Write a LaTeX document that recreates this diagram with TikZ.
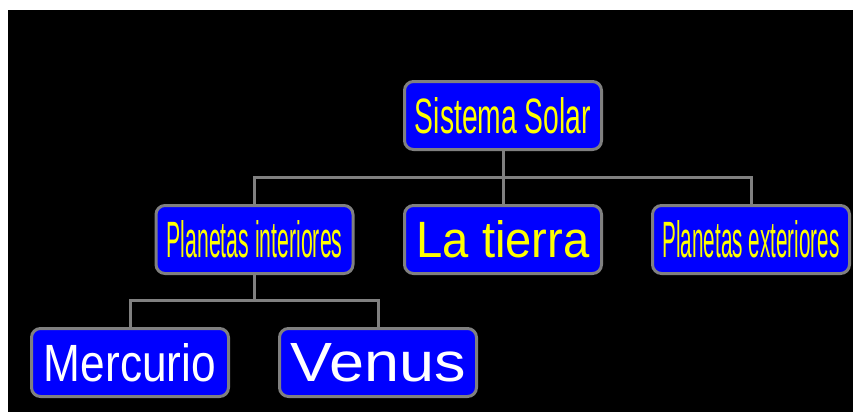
\documentclass[tikz,border=0pt]{standalone}
\usepackage{fontspec}
\setmainfont{Liberation Sans}
\usepackage{graphicx}
\definecolor{boxblue}{HTML}{0000FF}
\definecolor{edgegray}{HTML}{808080}
\definecolor{txtyellow}{HTML}{FFFF00}
\begin{document}
\begin{tikzpicture}[x=1pt,y=-1pt,
  box/.style={draw=edgegray,line width=3pt,fill=boxblue,rounded corners=9pt,
    minimum width=197pt,minimum height=68pt,inner sep=0pt},
  conn/.style={draw=edgegray,line width=3pt}]
\useasboundingbox (0,0) rectangle (853,412);
\fill[white] (0,0) rectangle (853,412);
\fill[black] (8,10) rectangle (853,412);
\node[box] (ss) at (503,115.5) {\color{txtyellow}\resizebox{176pt}{36pt}{Sistema Solar}};
\node[box] (pi) at (254.5,239.5) {\color{txtyellow}\resizebox{176pt}{37pt}{Planetas interiores}};
\node[box] (lt) at (503,239.5) {\color{txtyellow}\resizebox{173pt}{37pt}{La tierra}};
\node[box] (pe) at (751,239.5) {\color{txtyellow}\resizebox{177pt}{37pt}{Planetas exteriores}};
\node[box] (me) at (130,362.5) {\color{white}\resizebox{172pt}{38pt}{Mercurio}};
\node[box] (ve) at (378,362.5) {\color{white}\resizebox{175pt}{38pt}{Venus}};
\coordinate (j1) at (503,177);
\coordinate (j2) at (254.5,300);
\draw[conn] (ss.south) -- (j1);
\draw[conn] (pi.north) -- (pi.north |- j1) -- (pe.north |- j1) -- (pe.north);
\draw[conn] (j1) -- (lt.north);
\draw[conn] (pi.south) -- (j2);
\draw[conn] (me.north) -- (me.north |- j2) -- (ve.north |- j2) -- (ve.north);
\end{tikzpicture}
\end{document}
